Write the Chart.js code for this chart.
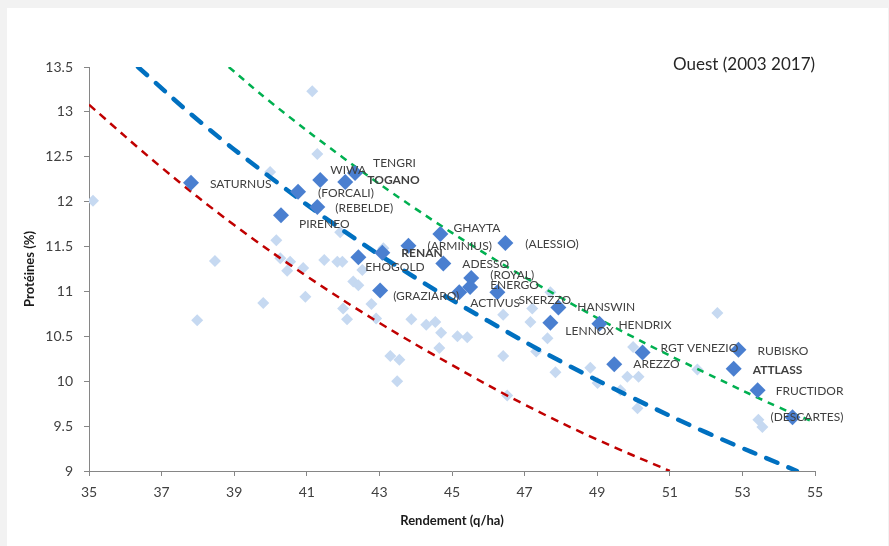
<!DOCTYPE html>
<html>
<head>
<meta charset="utf-8">
<script src="https://cdn.jsdelivr.net/npm/chart.js@4.4.0/dist/chart.umd.min.js"></script>
<style>
  html, body { margin: 0; padding: 0; background: #f2f2f2; }
  #wrap { position: absolute; left: 7px; top: 8px; width: 881px; height: 538px; background: #ffffff; }
  canvas { display: block; }
</style>
</head>
<body>
<div id="wrap"><canvas id="chart" width="881" height="538"></canvas></div>
<script>
// --- DATA ---
const chartTitle = 'Ouest (2003 2017)';

// named varieties (dark diamonds)
const varieties = ['SATURNUS', '(FORCALI)', 'WIWA', 'TOGANO', 'TENGRI', '(REBELDE)', 'PIRENEO',
    'EHOGOLD', 'RENAN', '(ARMINIUS)', 'GHAYTA', '(ALESSIO)', 'ADESSO', '(GRAZIARO)', '(ROYAL)',
    'ENERGO', 'ACTIVUS', 'SKERZZO', 'HANSWIN', 'LENNOX', 'HENDRIX', 'AREZZO', 'RGT VENEZIO',
    'RUBISKO', 'ATTLASS', 'FRUCTIDOR', '(DESCARTES)'];
const varYield = [37.81, 40.76, 41.37, 42.06, 42.33, 41.29, 40.29, 42.42, 43.08, 43.80, 44.68, 46.47,
    44.76, 43.02, 45.53, 45.50, 45.20, 46.25, 47.93, 47.71, 49.06, 49.47, 50.25, 52.89, 52.76, 53.42, 54.38];
const varProtein = [12.21, 12.11, 12.24, 12.22, 12.32, 11.94, 11.85, 11.38, 11.43, 11.51, 11.64, 11.54,
    11.31, 11.01, 11.15, 11.05, 10.99, 10.99, 10.82, 10.65, 10.64, 10.19, 10.32, 10.35, 10.14, 9.90, 9.60];
const boldNames = ['TOGANO', 'RENAN', 'ATTLASS'];

// other trial results (light diamonds)
const otherYield = [35.11, 41.15, 41.29, 39.99, 40.16, 41.92, 38.47, 40.27, 40.54, 40.46, 40.90, 41.48,
    41.84, 41.98, 42.28, 42.42, 42.53, 39.80, 40.96, 42.00, 42.11, 42.78, 42.91, 43.88, 44.29, 44.54,
    44.70, 45.15, 45.42, 44.65, 43.30, 43.55, 43.49, 37.98, 46.41, 46.41, 47.16, 47.21, 47.32, 47.63,
    47.85, 46.52, 48.81, 49.01, 49.64, 49.83, 50.14, 49.99, 50.11, 47.71, 51.76, 52.31, 53.44, 53.55, 43.11];
const otherProtein = [12.01, 13.23, 12.53, 12.33, 11.57, 11.66, 11.34, 11.37, 11.33, 11.23, 11.26, 11.35,
    11.33, 11.33, 11.11, 11.07, 11.24, 10.87, 10.94, 10.81, 10.69, 10.86, 10.70, 10.69, 10.63, 10.66,
    10.54, 10.50, 10.49, 10.37, 10.28, 10.24, 10.00, 10.68, 10.28, 10.74, 10.66, 10.81, 10.33, 10.48,
    10.10, 9.84, 10.15, 9.98, 9.90, 10.05, 10.05, 10.38, 9.70, 10.99, 10.13, 10.76, 9.57, 9.49, 11.48];

// reference curves
const redX = [35, 37, 39, 41, 43, 45, 47, 49, 51];
const redY = [13.08, 12.38, 11.74, 11.17, 10.65, 10.18, 9.74, 9.35, 9.0];
const blueX = [36.35, 38, 40, 42, 44, 46, 48, 50, 52, 54.5];
const blueY = [13.5, 12.91, 12.27, 11.68, 11.15, 10.67, 10.22, 9.81, 9.43, 9.0];
const greenX = [38.85, 40, 42, 44, 46, 48, 50, 52, 54, 55];
const greenY = [13.5, 13.11, 12.49, 11.92, 11.40, 10.93, 10.49, 10.09, 9.71, 9.54];

// label nudges in px from each dark point (layout only)
const labelNudge = [[19, 1], [20, 1], [10, -10], [22, -2], [18, -10], [18, 1], [18, 9],
    [7, 10], [19, 0], [19, 0], [13, -6], [20, 1], [19, 1], [13, 6], [19, -3],
    [20, -2], [11, 11], [21, 8], [19, 0], [15, 8], [19, 1], [19, 0], [18, -4],
    [19, 1], [19, 1], [18, 1], [-22, 0]];

const FONT = 'Lato, "Liberation Sans", sans-serif';

function toPoints(xs, ys) {
    return xs.map((x, i) => ({ x: x, y: ys[i] }));
}

// --- PLUGINS ---
const labelPlugin = {
    id: 'varLabels',
    afterDatasetsDraw(chart) {
        const ctx = chart.ctx;
        const meta = chart.getDatasetMeta(0);
        ctx.save();
        ctx.fillStyle = '#404040';
        ctx.textBaseline = 'middle';
        ctx.textAlign = 'left';
        meta.data.forEach((pt, i) => {
            const name = varieties[i];
            ctx.font = (boldNames.includes(name) ? 'bold ' : '') + '12px ' + FONT;
            ctx.fillText(name, pt.x + labelNudge[i][0], pt.y + labelNudge[i][1]);
        });
        // corner title
        ctx.font = '17px ' + FONT;
        ctx.fillStyle = '#262626';
        ctx.fillText(chartTitle, chart.chartArea.right - 142, 57);
        ctx.restore();
    }
};

// --- CHART ---
new Chart(document.getElementById('chart'), {
    type: 'scatter',
    data: {
        datasets: [
            {
                label: 'Variétés',
                data: toPoints(varYield, varProtein),
                pointStyle: 'rectRot',
                pointRadius: 8,
                backgroundColor: '#4a7fd0',
                borderColor: '#4a7fd0',
                borderWidth: 0,
                order: 0
            },
            {
                label: 'rouge',
                data: toPoints(redX, redY),
                showLine: true,
                pointRadius: 0,
                borderColor: '#c00000',
                borderWidth: 2.5,
                borderDash: [8, 6],
                tension: 0.4,
                order: 1
            },
            {
                label: 'bleu',
                data: toPoints(blueX, blueY),
                showLine: true,
                pointRadius: 0,
                borderColor: '#0070c0',
                borderWidth: 4.5,
                borderDash: [12, 12],
                borderCapStyle: 'round',
                tension: 0.4,
                order: 1
            },
            {
                label: 'vert',
                data: toPoints(greenX, greenY),
                showLine: true,
                pointRadius: 0,
                borderColor: '#00b050',
                borderWidth: 2.5,
                borderDash: [7, 6],
                tension: 0.4,
                order: 1
            },
            {
                label: 'Essais',
                data: toPoints(otherYield, otherProtein),
                pointStyle: 'rectRot',
                pointRadius: 6,
                backgroundColor: '#c6d9f1',
                borderColor: '#c6d9f1',
                borderWidth: 0,
                order: 2
            }
        ]
    },
    options: {
        responsive: false,
        animation: false,
        devicePixelRatio: 1,
        layout: { padding: { left: 0, right: 73, top: 59, bottom: 0 } },
        plugins: {
            legend: { display: false },
            tooltip: { enabled: false }
        },
        scales: {
            x: {
                type: 'linear',
                min: 35,
                max: 55,
                ticks: { stepSize: 2, color: '#404040', font: { family: FONT, size: 14 }, padding: 8 },
                grid: { drawOnChartArea: false, drawTicks: true, tickLength: 5, color: '#868686' },
                border: { color: '#868686', width: 1 },
                title: {
                    display: true,
                    text: 'Rendement (q/ha)',
                    color: '#1a1a1a',
                    font: { family: FONT, size: 13, weight: 'bold' },
                    padding: { top: 0, bottom: 17 }
                },
                afterFit: (scale) => { scale.height = 75; }
            },
            y: {
                type: 'linear',
                min: 9,
                max: 13.5,
                ticks: {
                    stepSize: 0.5,
                    color: '#404040',
                    font: { family: FONT, size: 14 },
                    padding: 11,
                    callback: (v) => String(Math.round(v * 10) / 10)
                },
                grid: { drawOnChartArea: false, drawTicks: true, tickLength: 5, color: '#868686' },
                border: { color: '#868686', width: 1 },
                title: {
                    display: true,
                    text: 'Protéines (%)',
                    color: '#1a1a1a',
                    font: { family: FONT, size: 13, weight: 'bold' },
                    padding: { top: 15, bottom: 0 }
                },
                afterFit: (scale) => { scale.width = 82; }
            }
        }
    },
    plugins: [labelPlugin]
});
</script>
</body>
</html>
